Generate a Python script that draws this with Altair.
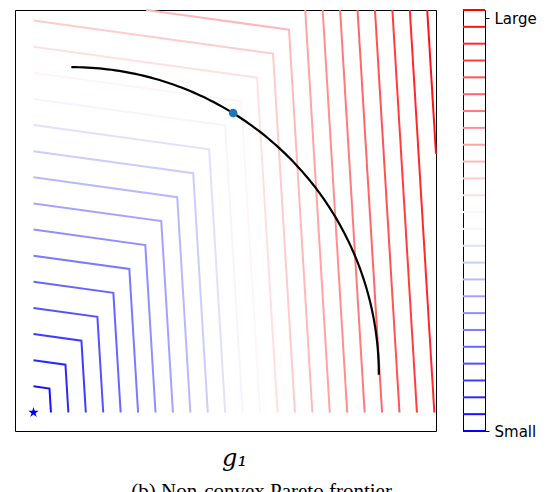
import altair as alt
import numpy as np
import pandas as pd

# Contour levels of the scalarized objective (26 evenly spaced values, index 0..25)
LEVELS = [0.0, 0.0433, 0.0866, 0.1299, 0.1732, 0.2165, 0.2598, 0.3031, 0.3464,
          0.3897, 0.4330, 0.4763, 0.5196, 0.5629, 0.6062, 0.6495, 0.6928, 0.7361,
          0.7794, 0.8227, 0.8660, 0.9093, 0.9526, 0.9959, 1.0392, 1.0825]

# Piecewise-linear objective: f(g1, g2) = max(g1 + B*g2, A*(g2 + D*g1))
A, B, D = 0.667, 0.061, 0.138
F_MIN, F_MAX = 0.0, 1.061

# Non-convex Pareto frontier: a quarter circle
ARC_CENTER = [0.094, 0.094]
ARC_RADIUS = 0.764
ARC_ANGLES_DEG = [0.0, 90.0]

# Selected solution on the frontier and the ideal point
SOLUTION_G1 = [0.496]
SOLUTION_G2 = [0.744]
IDEAL_G1 = [0.0]
IDEAL_G2 = [0.0]

AX_DOMAIN = [-0.046, 1.0]
CB_DOMAIN = [LEVELS[0], LEVELS[-1]]


def contour_vertices(c):
    """Vertices of the level set f = c inside the unit square."""
    pts = []
    corner_g2 = c * (1 / A - D) / (1 - B * D)
    corner_g1 = c - B * corner_g2
    if corner_g2 < 1:
        left_g2 = c / A
        if left_g2 <= 1:
            pts.append((0.0, left_g2))
        else:
            pts.append(((c / A - 1) / D, 1.0))
        pts.append((corner_g1, corner_g2))
    else:
        pts.append((c - B, 1.0))
    if c <= 1:
        pts.append((c, 0.0))
    else:
        pts.append((1.0, (c - 1) / B))
    return pts


rows = []
for c in LEVELS:
    if c <= F_MIN or c > F_MAX:
        continue
    for i, (x, y) in enumerate(contour_vertices(c)):
        rows.append({"level": c, "order": i, "g1": x, "g2": y})
contours_df = pd.DataFrame(rows)

theta = np.radians(np.linspace(ARC_ANGLES_DEG[0], ARC_ANGLES_DEG[1], 121))
arc_df = pd.DataFrame({
    "g1": ARC_CENTER[0] + ARC_RADIUS * np.cos(theta),
    "g2": ARC_CENTER[1] + ARC_RADIUS * np.sin(theta),
    "order": np.arange(len(theta)),
})
sol_df = pd.DataFrame({"g1": SOLUTION_G1, "g2": SOLUTION_G2})
ideal_df = pd.DataFrame({"g1": IDEAL_G1, "g2": IDEAL_G2})
levels_df = pd.DataFrame({"level": LEVELS})

color_scale = alt.Scale(domain=CB_DOMAIN, range=["#0000ff", "#ffffff", "#ff0000"],
                        interpolate="rgb")

xs = alt.Scale(domain=AX_DOMAIN, nice=False, zero=False)
ys = alt.Scale(domain=AX_DOMAIN, nice=False, zero=False)

x_axis = alt.Axis(labels=False, ticks=False, domain=False, grid=False,
                  title="g₁", titleFont="DejaVu Serif", titleFontStyle="italic",
                  titleFontWeight="normal", titleFontSize=24, titleColor="black",
                  titleX=219, titleY=34, titleAlign="center",
                  titleBaseline="alphabetic")

contours = alt.Chart(contours_df).mark_line(strokeWidth=2).encode(
    x=alt.X("g1:Q", scale=xs, axis=x_axis),
    y=alt.Y("g2:Q", scale=ys, axis=None),
    color=alt.Color("level:Q", scale=color_scale, legend=None),
    detail="level:N",
    order="order:Q",
)

frontier = alt.Chart(arc_df).mark_line(color="black", strokeWidth=2.2).encode(
    x=alt.X("g1:Q", scale=xs),
    y=alt.Y("g2:Q", scale=ys),
    order="order:Q",
)

solution = alt.Chart(sol_df).mark_point(filled=True, size=75, color="#1f77b4",
                                        opacity=1).encode(
    x=alt.X("g1:Q", scale=xs),
    y=alt.Y("g2:Q", scale=ys),
)

STAR = ("M0,-1L0.2245,-0.309L0.951,-0.309L0.363,0.118L0.588,0.809L0,0.382"
        "L-0.588,0.809L-0.363,0.118L-0.951,-0.309L-0.2245,-0.309Z")
ideal = alt.Chart(ideal_df).mark_point(shape=STAR, filled=True, size=120,
                                       color="#0000ff", opacity=1).encode(
    x=alt.X("g1:Q", scale=xs),
    y=alt.Y("g2:Q", scale=ys),
)

main = alt.layer(contours, frontier, solution, ideal).properties(width=421, height=421)

colorbar = alt.Chart(levels_df).mark_rule(strokeWidth=2).encode(
    y=alt.Y("level:Q", scale=alt.Scale(domain=CB_DOMAIN, nice=False, zero=False),
            axis=alt.Axis(orient="right", values=[F_MIN, F_MAX],
                          labelExpr="datum.value < 0.5 ? 'Small' : 'Large'",
                          tickSize=4, tickColor="black", tickWidth=1,
                          labelFont="DejaVu Sans", labelFontSize=15,
                          labelColor="black", labelPadding=5,
                          domain=False, grid=False, title=None)),
    color=alt.Color("level:Q", scale=color_scale, legend=None),
).properties(width=22, height=421)

chart = alt.hconcat(main, colorbar, spacing=20).resolve_scale(
    x="independent", y="independent", color="shared"
).properties(
    padding={"left": 14, "top": 5, "right": 5, "bottom": 5},
    title=alt.TitleParams("(b) Non-convex Pareto frontier", orient="bottom",
                          anchor="middle", font="Liberation Serif", fontSize=21,
                          fontWeight="normal", color="black", offset=10, dx=-14),
).configure_view(stroke="black", strokeWidth=1)

chart.save("out.html", embed_options={"renderer": "svg", "actions": False})
